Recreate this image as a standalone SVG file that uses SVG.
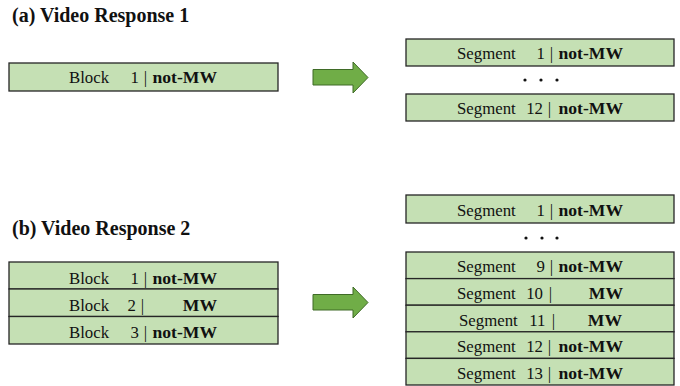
<svg xmlns="http://www.w3.org/2000/svg" width="680" height="386" viewBox="0 0 680 386">
<style>
.box{fill:#C5E0B4;stroke:#262626;stroke-width:1.3}
.t{font-family:"Liberation Serif","Times New Roman",serif;font-size:16.8px;fill:#111}
.b{font-weight:bold;font-size:17.6px}
.title{font-family:"Liberation Serif","Times New Roman",serif;font-size:20px;font-weight:bold;fill:#111}
.arrow{fill:#70AD47;stroke:#3F6B27;stroke-width:1}
.dot{fill:#111}
</style>
<rect width="680" height="386" fill="#ffffff"/>
<text class="title" x="12" y="22">(a) Video Response 1</text>
<text class="title" x="12" y="235">(b) Video Response 2</text>

<g id="a-block1">
<rect class="box" x="9" y="63" width="269" height="28"/>
<text class="t" y="83"><tspan x="69">Block</tspan><tspan x="139" text-anchor="end">1</tspan><tspan x="145.5" text-anchor="middle">|</tspan><tspan class="b" x="217" text-anchor="end">not-MW</tspan></text>
</g>
<g id="a-seg1">
<rect class="box" x="406" y="39" width="268" height="27"/>
<text class="t" y="59"><tspan x="457">Segment</tspan><tspan x="545" text-anchor="end">1</tspan><tspan x="551.5" text-anchor="middle">|</tspan><tspan class="b" x="623" text-anchor="end">not-MW</tspan></text>
</g>
<g id="a-dots">
<circle class="dot" cx="525" cy="80" r="1.6"/><circle class="dot" cx="541" cy="80" r="1.6"/><circle class="dot" cx="557" cy="80" r="1.6"/>
</g>
<g id="a-seg12">
<rect class="box" x="406" y="94" width="268" height="27"/>
<text class="t" y="114"><tspan x="457">Segment</tspan><tspan x="543" text-anchor="end">12</tspan><tspan x="549.5" text-anchor="middle">|</tspan><tspan class="b" x="623" text-anchor="end">not-MW</tspan></text>
</g>

<g id="b-block1">
<rect class="box" x="9" y="262" width="269" height="27"/>
<text class="t" y="284"><tspan x="69">Block</tspan><tspan x="139" text-anchor="end">1</tspan><tspan x="145.5" text-anchor="middle">|</tspan><tspan class="b" x="217" text-anchor="end">not-MW</tspan></text>
</g>
<g id="b-block2">
<rect class="box" x="9" y="289" width="269" height="27.5"/>
<text class="t" y="311"><tspan x="69">Block</tspan><tspan x="136" text-anchor="end">2</tspan><tspan x="142.5" text-anchor="middle">|</tspan><tspan class="b" x="217" text-anchor="end">MW</tspan></text>
</g>
<g id="b-block3">
<rect class="box" x="9" y="316.5" width="269" height="27.5"/>
<text class="t" y="338"><tspan x="69">Block</tspan><tspan x="139" text-anchor="end">3</tspan><tspan x="145.5" text-anchor="middle">|</tspan><tspan class="b" x="217" text-anchor="end">not-MW</tspan></text>
</g>

<g id="b-seg1">
<rect class="box" x="406" y="195" width="268" height="28"/>
<text class="t" y="216"><tspan x="457">Segment</tspan><tspan x="545" text-anchor="end">1</tspan><tspan x="551.5" text-anchor="middle">|</tspan><tspan class="b" x="623" text-anchor="end">not-MW</tspan></text>
</g>
<g id="b-dots">
<circle class="dot" cx="526" cy="238" r="1.6"/><circle class="dot" cx="542" cy="238" r="1.6"/><circle class="dot" cx="557" cy="238" r="1.6"/>
</g>
<g id="b-seg9">
<rect class="box" x="406" y="252" width="268" height="26.6"/>
<text class="t" y="272"><tspan x="457">Segment</tspan><tspan x="545" text-anchor="end">9</tspan><tspan x="551.5" text-anchor="middle">|</tspan><tspan class="b" x="623" text-anchor="end">not-MW</tspan></text>
</g>
<g id="b-seg10">
<rect class="box" x="406" y="278.6" width="268" height="26.6"/>
<text class="t" y="299"><tspan x="457">Segment</tspan><tspan x="543" text-anchor="end">10</tspan><tspan x="550.5" text-anchor="middle">|</tspan><tspan class="b" x="623" text-anchor="end">MW</tspan></text>
</g>
<g id="b-seg11">
<rect class="box" x="406" y="305.2" width="268" height="26.6"/>
<text class="t" y="325.5"><tspan x="459">Segment</tspan><tspan x="545.5" text-anchor="end">11</tspan><tspan x="553.5" text-anchor="middle">|</tspan><tspan class="b" x="622" text-anchor="end">MW</tspan></text>
</g>
<g id="b-seg12">
<rect class="box" x="406" y="331.8" width="268" height="26.6"/>
<text class="t" y="352"><tspan x="457">Segment</tspan><tspan x="543" text-anchor="end">12</tspan><tspan x="549.5" text-anchor="middle">|</tspan><tspan class="b" x="623" text-anchor="end">not-MW</tspan></text>
</g>
<g id="b-seg13">
<rect class="box" x="406" y="358.4" width="268" height="26.6"/>
<text class="t" y="379"><tspan x="457">Segment</tspan><tspan x="543" text-anchor="end">13</tspan><tspan x="549.5" text-anchor="middle">|</tspan><tspan class="b" x="623" text-anchor="end">not-MW</tspan></text>
</g>

<g id="connectors">
<path class="arrow" d="M313,69.5 L353,69.5 L353,62 L368,77.5 L353,93 L353,85 L313,85 Z"/>
<path class="arrow" d="M313,294.5 L353,294.5 L353,287 L368,302.5 L353,318 L353,310 L313,310 Z"/>
</g>
</svg>
